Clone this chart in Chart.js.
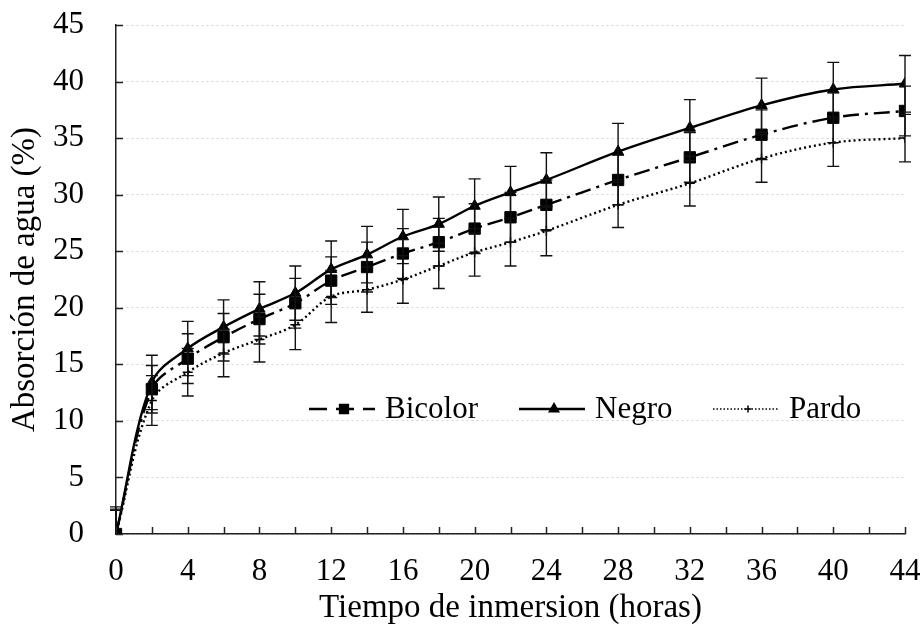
<!DOCTYPE html>
<html>
<head>
<meta charset="utf-8">
<script src="https://cdn.jsdelivr.net/npm/chart.js@4.4.1/dist/chart.umd.min.js"></script>
<style>
  html, body { margin: 0; padding: 0; background: #fff; }
  #wrap { width: 924px; height: 632px; position: relative; }
</style>
</head>
<body>
<div id="wrap"><canvas id="chart" width="924" height="632"></canvas></div>
<script>
// Tiempo de inmersion (horas)
const horas = [0, 2, 4, 6, 8, 10, 12, 14, 16, 18, 20, 22, 24, 28, 32, 36, 40, 44];

// Absorción de agua (%)
const bicolor = [0, 12.8, 15.5, 17.4, 19.0, 20.4, 22.4, 23.6, 24.8, 25.8, 27.0, 28.0, 29.1, 31.3, 33.3, 35.3, 36.8, 37.4];
const negro   = [0, 13.4, 16.4, 18.3, 19.9, 21.3, 23.4, 24.7, 26.3, 27.4, 29.0, 30.2, 31.3, 33.8, 35.9, 37.9, 39.3, 39.8];
const pardo   = [0, 11.8, 14.3, 16.0, 17.2, 18.5, 21.0, 21.6, 22.5, 23.7, 24.9, 25.8, 26.8, 29.1, 31.0, 33.2, 34.6, 35.0];

// desviación (barras de error)
const errBicolor = [2.2, 2.1, 2.2, 2.1, 2.2, 2.2, 2.1, 2.2, 2.2, 2.1, 2.2, 2.2, 2.2, 2.2, 2.2, 2.2, 2.2, 2.2];
const errNegro   = [2.4, 2.4, 2.4, 2.4, 2.4, 2.4, 2.5, 2.5, 2.4, 2.4, 2.4, 2.3, 2.4, 2.5, 2.5, 2.4, 2.4, 2.5];
const errPardo   = [2.1, 2.2, 2.1, 2.1, 2.0, 2.2, 2.3, 2.0, 2.1, 2.0, 2.1, 2.1, 2.2, 2.0, 2.0, 2.1, 2.1, 2.1];

const FONT = '"Liberation Serif", "Times New Roman", serif';

const toPoints = (vals) => horas.map((h, i) => ({ x: h, y: vals[i] }));

const series = [
  { label: 'Bicolor', data: bicolor, err: errBicolor, dash: [16, 6, 3, 6], point: 'rect', radius: 8 },
  { label: 'Negro', data: negro, err: errNegro, dash: [], point: 'triangle', radius: 6.5 },
  { label: 'Pardo', data: pardo, err: errPardo, dash: [2, 3], point: 'cross', radius: 5 }
];

// barras de error
const errorBars = {
  id: 'errorBars',
  afterDatasetsDraw(chart) {
    const ctx = chart.ctx;
    const xs = chart.scales.x, ys = chart.scales.y;
    ctx.save();
    ctx.strokeStyle = '#111';
    ctx.lineWidth = 1.4;
    ctx.setLineDash([]);
    series.forEach(s => {
      s.data.forEach((v, i) => {
        const x = xs.getPixelForValue(horas[i]);
        const top = ys.getPixelForValue(v + s.err[i]);
        const bot = ys.getPixelForValue(Math.max(0, v - s.err[i]));
        ctx.beginPath();
        ctx.moveTo(x, top); ctx.lineTo(x, bot);
        ctx.moveTo(x - 6, top); ctx.lineTo(x + 6, top);
        if (v - s.err[i] > 0) { ctx.moveTo(x - 6, bot); ctx.lineTo(x + 6, bot); }
        ctx.stroke();
      });
    });
    ctx.restore();
  }
};

// marcas de eje hacia adentro
const innerTicks = {
  id: 'innerTicks',
  afterDraw(chart) {
    const ctx = chart.ctx;
    const xs = chart.scales.x, ys = chart.scales.y;
    const area = chart.chartArea;
    ctx.save();
    ctx.strokeStyle = '#222';
    ctx.lineWidth = 1.5;
    ctx.beginPath();
    ys.ticks.forEach((t, i) => {
      const y = Math.round(ys.getPixelForTick(i)) + 0.5;
      ctx.moveTo(area.left, y); ctx.lineTo(area.left + 7, y);
    });
    xs.ticks.forEach((t, i) => {
      const x = Math.round(xs.getPixelForTick(i)) + 0.5;
      ctx.moveTo(x, area.bottom); ctx.lineTo(x, area.bottom - 7);
    });
    ctx.stroke();
    ctx.restore();
  }
};

// leyenda dentro del área
const innerLegend = {
  id: 'innerLegend',
  afterDraw(chart) {
    const ctx = chart.ctx;
    const starts = [309, 519, 713];
    const y = 409;
    ctx.save();
    ctx.font = '31px ' + FONT;
    ctx.textBaseline = 'middle';
    ctx.fillStyle = '#000';
    series.forEach((s, i) => {
      const x0 = starts[i], x1 = x0 + 66;
      ctx.strokeStyle = '#000';
      ctx.lineWidth = s.point === 'cross' ? 1.5 : 2.4;
      ctx.setLineDash(s.point === 'cross' ? [1.5, 2] : (s.point === 'rect' ? [18, 9] : []));
      ctx.beginPath();
      ctx.moveTo(x0, y); ctx.lineTo(x1, y);
      ctx.stroke();
      ctx.setLineDash([]);
      Chart.helpers.drawPoint(ctx, { pointStyle: s.point, radius: s.radius * 0.7, borderWidth: 1.5 }, (x0 + x1) / 2 + 2, y);
      ctx.fillStyle = '#000';
      ctx.fillText(s.label, x1 + 10, y + 1);
    });
    ctx.restore();
  }
};

new Chart(document.getElementById('chart'), {
  type: 'line',
  data: {
    datasets: series.map(s => ({
      label: s.label,
      data: toPoints(s.data),
      borderColor: '#000',
      backgroundColor: '#000',
      borderWidth: 2.4,
      borderDash: s.dash,
      tension: 0.35,
      pointStyle: s.point,
      pointRadius: s.radius,
      pointBorderWidth: s.point === 'cross' ? 1.5 : 1,
      pointBackgroundColor: '#000',
      pointBorderColor: '#000'
    }))
  },
  options: {
    responsive: false,
    animation: false,
    layout: { padding: { left: 0, right: 19, top: 25, bottom: 0 } },
    plugins: {
      legend: { display: false },
      tooltip: { enabled: false }
    },
    scales: {
      x: {
        type: 'linear',
        min: 0,
        max: 44,
        afterFit: (scale) => {
          scale.height = 98;
          scale.paddingLeft = 0;
          scale.paddingRight = 0;
        },
        grid: { display: false, drawTicks: false },
        border: { display: true, color: '#222', width: 1.5 },
        ticks: {
          stepSize: 2,
          padding: 19,
          color: '#000',
          font: { family: FONT, size: 31 },
          maxRotation: 0,
          autoSkip: false,
          callback: (v) => (v % 4 === 0 ? String(v) : '')
        },
        title: {
          display: true,
          text: 'Tiempo de inmersion (horas)',
          color: '#000',
          font: { family: FONT, size: 33 },
          padding: { top: 0, bottom: 4 }
        }
      },
      y: {
        min: 0,
        max: 45,
        afterFit: (scale) => {
          scale.width = 116;
          scale.paddingTop = 0;
          scale.paddingBottom = 0;
        },
        grid: { color: '#d4d4d4', lineWidth: 1, drawTicks: false },
        border: { display: true, color: '#222', width: 1.5, dash: [2, 3] },
        ticks: {
          stepSize: 5,
          padding: 32,
          color: '#000',
          font: { family: FONT, size: 31 }
        },
        title: {
          display: true,
          text: 'Absorción de agua (%)',
          color: '#000',
          font: { family: FONT, size: 33 },
          padding: { top: 6, bottom: 0 }
        }
      }
    }
  },
  plugins: [errorBars, innerTicks, innerLegend]
});
</script>
</body>
</html>
